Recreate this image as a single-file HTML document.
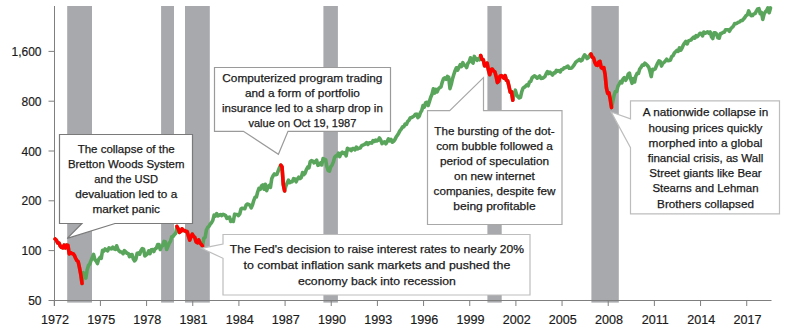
<!DOCTYPE html><html><head><meta charset="utf-8"><style>html,body{margin:0;padding:0;background:#fff;}svg{display:block;}text{font-family:"Liberation Sans",sans-serif;fill:#1a1a1a;}</style></head><body>
<svg width="788" height="334" viewBox="0 0 788 334">
<rect width="788" height="334" fill="#fff"/>
<rect x="67.2" y="6" width="24.8" height="296.6" fill="#a8a9ad"/>
<rect x="161.1" y="6" width="12.9" height="296.6" fill="#a8a9ad"/>
<rect x="185.0" y="6" width="24.8" height="296.6" fill="#a8a9ad"/>
<rect x="323.4" y="6" width="14.5" height="296.6" fill="#a8a9ad"/>
<rect x="487.4" y="6" width="14.3" height="296.6" fill="#a8a9ad"/>
<rect x="591.4" y="6" width="27.4" height="296.6" fill="#a8a9ad"/>
<g stroke="#7f7f7f" stroke-width="1" fill="none">
<line x1="54.5" y1="6" x2="54.5" y2="306"/>
<line x1="48.5" y1="300.5" x2="771.5" y2="300.5"/>
<line x1="54.26" y1="300.5" x2="54.26" y2="306"/>
<line x1="100.42" y1="300.5" x2="100.42" y2="306"/>
<line x1="146.59" y1="300.5" x2="146.59" y2="306"/>
<line x1="192.75" y1="300.5" x2="192.75" y2="306"/>
<line x1="238.92" y1="300.5" x2="238.92" y2="306"/>
<line x1="285.08" y1="300.5" x2="285.08" y2="306"/>
<line x1="331.24" y1="300.5" x2="331.24" y2="306"/>
<line x1="377.41" y1="300.5" x2="377.41" y2="306"/>
<line x1="423.57" y1="300.5" x2="423.57" y2="306"/>
<line x1="469.74" y1="300.5" x2="469.74" y2="306"/>
<line x1="515.90" y1="300.5" x2="515.90" y2="306"/>
<line x1="562.06" y1="300.5" x2="562.06" y2="306"/>
<line x1="608.23" y1="300.5" x2="608.23" y2="306"/>
<line x1="654.39" y1="300.5" x2="654.39" y2="306"/>
<line x1="700.56" y1="300.5" x2="700.56" y2="306"/>
<line x1="746.72" y1="300.5" x2="746.72" y2="306"/>
<line x1="48.5" y1="51.40" x2="54.5" y2="51.40"/>
<line x1="48.5" y1="101.20" x2="54.5" y2="101.20"/>
<line x1="48.5" y1="151.00" x2="54.5" y2="151.00"/>
<line x1="48.5" y1="200.80" x2="54.5" y2="200.80"/>
<line x1="48.5" y1="250.60" x2="54.5" y2="250.60"/>
</g>
<g font-size="12" stroke="#1a1a1a" stroke-width="0.18">
<text x="41.5" y="55.90" text-anchor="end">1,600</text>
<text x="41.5" y="105.70" text-anchor="end">800</text>
<text x="41.5" y="155.50" text-anchor="end">400</text>
<text x="41.5" y="205.30" text-anchor="end">200</text>
<text x="41.5" y="255.10" text-anchor="end">100</text>
<text x="41.5" y="304.90" text-anchor="end">50</text>
<text x="55.06" y="323.8" text-anchor="middle" font-size="12.6">1972</text>
<text x="101.22" y="323.8" text-anchor="middle" font-size="12.6">1975</text>
<text x="147.39" y="323.8" text-anchor="middle" font-size="12.6">1978</text>
<text x="193.55" y="323.8" text-anchor="middle" font-size="12.6">1981</text>
<text x="239.72" y="323.8" text-anchor="middle" font-size="12.6">1984</text>
<text x="285.88" y="323.8" text-anchor="middle" font-size="12.6">1987</text>
<text x="332.04" y="323.8" text-anchor="middle" font-size="12.6">1990</text>
<text x="378.21" y="323.8" text-anchor="middle" font-size="12.6">1993</text>
<text x="424.37" y="323.8" text-anchor="middle" font-size="12.6">1996</text>
<text x="470.54" y="323.8" text-anchor="middle" font-size="12.6">1999</text>
<text x="516.70" y="323.8" text-anchor="middle" font-size="12.6">2002</text>
<text x="562.86" y="323.8" text-anchor="middle" font-size="12.6">2005</text>
<text x="609.03" y="323.8" text-anchor="middle" font-size="12.6">2008</text>
<text x="655.19" y="323.8" text-anchor="middle" font-size="12.6">2011</text>
<text x="701.36" y="323.8" text-anchor="middle" font-size="12.6">2014</text>
<text x="747.52" y="323.8" text-anchor="middle" font-size="12.6">2017</text>
</g>
<path d="M55.12,238.98 L56.40,240.22 L57.68,242.96 L58.96,243.07 L60.25,246.06 L61.53,247.43 L62.81,247.90 L64.09,245.22 L65.37,247.91 L66.66,245.09 L67.94,245.18 L69.22,253.86 L70.50,252.68 L71.78,253.41 L73.07,253.67 L74.35,255.36 L75.63,258.22 L76.91,260.67 L78.19,261.74 L79.48,267.55 L80.76,274.35 L82.04,283.48 L83.32,272.63 L84.60,276.56 L85.89,278.02 L87.17,269.70 L88.45,265.52 L89.73,263.98 L91.01,260.66 L92.30,257.56 L93.58,254.44 L94.86,259.47 L96.14,261.00 L97.42,263.54 L98.71,259.24 L99.99,257.49 L101.27,258.32 L102.55,250.28 L103.83,251.11 L105.12,248.94 L106.40,249.73 L107.68,250.77 L108.96,247.89 L110.24,248.47 L111.53,248.84 L112.81,247.23 L114.09,248.85 L115.37,249.41 L116.65,245.73 L117.94,249.46 L119.22,251.03 L120.50,252.04 L121.78,252.03 L123.06,253.74 L124.35,250.56 L125.63,251.73 L126.91,253.26 L128.19,253.44 L129.47,256.63 L130.76,254.71 L132.04,254.51 L133.32,259.07 L134.60,260.87 L135.88,259.10 L137.17,253.21 L138.45,252.91 L139.73,254.19 L141.01,250.41 L142.29,248.57 L143.58,249.10 L144.86,256.00 L146.14,254.81 L147.42,253.75 L148.70,250.95 L149.99,253.62 L151.27,249.77 L152.55,249.65 L153.83,251.56 L155.11,248.84 L156.40,248.21 L157.68,244.50 L158.96,244.50 L160.24,249.60 L161.52,246.61 L162.81,245.41 L164.09,241.39 L165.37,241.70 L166.65,249.41 L167.93,246.52 L169.22,243.25 L170.50,241.34 L171.78,236.81 L173.06,236.39 L174.34,234.60 L175.63,233.46 L176.91,226.46 L178.19,228.94 L179.47,232.30 L180.75,231.35 L182.04,228.81 L183.32,230.51 L184.60,230.63 L185.88,231.38 L187.16,231.54 L188.45,236.15 L189.73,240.13 L191.01,236.68 L192.29,234.10 L193.57,236.29 L194.86,237.56 L196.14,242.05 L197.42,242.78 L198.70,239.96 L199.98,242.83 L201.27,244.31 L202.55,245.98 L203.83,238.09 L205.11,237.55 L206.39,230.03 L207.68,227.48 L208.96,226.40 L210.24,224.06 L211.52,222.70 L212.80,220.36 L214.09,215.17 L215.37,216.07 L216.65,213.58 L217.93,215.99 L219.21,215.18 L220.50,214.46 L221.78,215.56 L223.06,214.31 L224.34,214.95 L225.62,215.62 L226.91,218.46 L228.19,217.50 L229.47,217.11 L230.75,221.51 L232.03,220.26 L233.32,221.45 L234.60,214.19 L235.88,214.44 L237.16,214.45 L238.44,215.54 L239.73,213.95 L241.01,208.82 L242.29,208.20 L243.57,208.41 L244.85,208.74 L246.14,204.96 L247.42,204.09 L248.70,204.44 L249.98,205.31 L251.26,207.84 L252.55,204.85 L253.83,200.32 L255.11,197.16 L256.39,196.99 L257.67,192.03 L258.96,188.33 L260.24,189.35 L261.52,185.83 L262.80,184.83 L264.08,189.17 L265.37,184.23 L266.65,190.65 L267.93,186.82 L269.21,185.29 L270.49,187.35 L271.78,178.46 L273.06,175.86 L274.34,173.98 L275.62,174.81 L276.90,174.38 L278.19,171.02 L279.47,167.63 L280.75,165.16 L282.03,166.92 L283.31,184.56 L284.60,190.96 L285.88,185.91 L287.16,183.06 L288.44,180.12 L289.72,182.56 L291.01,181.88 L292.29,181.66 L293.57,178.61 L294.85,179.00 L296.13,181.83 L297.42,179.03 L298.70,177.19 L299.98,178.56 L301.26,177.51 L302.54,172.58 L303.83,174.69 L305.11,173.21 L306.39,169.70 L307.67,167.22 L308.95,167.79 L310.24,161.70 L311.52,160.60 L312.80,161.07 L314.08,162.90 L315.36,161.72 L316.65,160.20 L317.93,165.32 L319.21,164.71 L320.49,162.99 L321.77,164.95 L323.06,158.62 L324.34,159.27 L325.62,159.64 L326.90,166.76 L328.18,170.53 L329.47,171.02 L330.75,166.84 L332.03,165.07 L333.31,162.15 L334.59,157.47 L335.88,155.89 L337.16,155.87 L338.44,153.15 L339.72,156.68 L341.00,153.52 L342.29,152.13 L343.57,153.51 L344.85,152.67 L346.13,155.89 L347.41,148.29 L348.70,149.74 L349.98,149.05 L351.26,150.64 L352.54,148.66 L353.82,148.59 L355.11,149.85 L356.39,147.08 L357.67,148.82 L358.95,148.17 L360.23,148.02 L361.52,145.88 L362.80,145.16 L364.08,144.65 L365.36,143.90 L366.64,142.57 L367.93,144.42 L369.21,142.81 L370.49,142.75 L371.77,143.14 L373.05,140.70 L374.34,141.43 L375.62,140.05 L376.90,140.98 L378.18,140.26 L379.46,137.96 L380.75,140.15 L382.03,143.52 L383.31,142.69 L384.59,141.81 L385.87,143.76 L387.16,141.53 L388.44,138.88 L389.72,140.84 L391.00,139.36 L392.28,142.25 L393.57,141.37 L394.85,139.65 L396.13,137.10 L397.41,135.17 L398.69,133.18 L399.98,130.62 L401.26,129.11 L402.54,126.86 L403.82,126.88 L405.10,124.06 L406.39,124.42 L407.67,121.53 L408.95,120.29 L410.23,117.98 L411.51,117.48 L412.80,116.92 L414.08,115.96 L415.36,114.34 L416.64,114.17 L417.92,117.54 L419.21,116.20 L420.49,112.41 L421.77,110.55 L423.05,105.47 L424.33,107.03 L425.62,102.75 L426.90,102.33 L428.18,105.46 L429.46,101.38 L430.74,97.29 L432.03,94.23 L433.31,88.83 L434.59,93.08 L435.87,89.36 L437.15,91.88 L438.44,88.75 L439.72,87.62 L441.00,86.90 L442.28,82.01 L443.56,78.51 L444.85,77.86 L446.13,79.22 L447.41,76.44 L448.69,77.28 L449.97,88.60 L451.26,84.26 L452.54,78.71 L453.82,74.58 L455.10,70.64 L456.38,67.75 L457.67,70.11 L458.95,67.38 L460.23,64.70 L461.51,66.52 L462.79,62.71 L464.08,65.05 L465.36,65.50 L466.64,67.58 L467.92,63.22 L469.20,61.87 L470.49,57.83 L471.77,61.58 L473.05,63.04 L474.33,56.40 L475.61,58.65 L476.90,60.24 L478.18,58.54 L479.46,59.73 L480.74,55.49 L482.02,59.44 L483.31,59.80 L484.59,65.80 L485.87,65.51 L487.15,63.06 L488.43,70.02 L489.72,74.78 L491.00,69.47 L492.28,69.10 L493.56,70.92 L494.84,71.70 L496.13,76.46 L497.41,82.59 L498.69,81.30 L499.97,76.09 L501.25,75.55 L502.54,76.67 L503.82,78.18 L505.10,75.59 L506.38,80.14 L507.66,80.80 L508.95,86.20 L510.23,92.12 L511.51,91.77 L512.79,100.14 L514.07,94.18 L515.36,90.20 L516.64,94.67 L517.92,96.66 L519.20,97.90 L520.48,97.30 L521.77,91.70 L523.05,88.13 L524.33,87.32 L525.61,86.17 L526.89,84.89 L528.18,85.76 L529.46,81.91 L530.74,81.40 L532.02,77.85 L533.30,76.62 L534.59,75.74 L535.87,76.93 L537.15,78.15 L538.43,77.28 L539.71,76.00 L541.00,78.51 L542.28,78.34 L543.56,77.67 L544.84,76.67 L546.12,73.95 L547.41,71.66 L548.69,73.50 L549.97,72.15 L551.25,73.54 L552.53,75.00 L553.82,72.88 L555.10,72.89 L556.38,70.35 L557.66,71.16 L558.94,70.66 L560.23,71.95 L561.51,69.47 L562.79,69.53 L564.07,67.73 L565.35,67.69 L566.64,66.90 L567.92,66.03 L569.20,68.29 L570.48,68.28 L571.76,67.92 L573.05,66.41 L574.33,64.66 L575.61,62.43 L576.89,61.26 L578.17,60.36 L579.46,59.36 L580.74,60.94 L582.02,60.23 L583.30,57.19 L584.58,54.88 L585.87,56.18 L587.15,58.51 L588.43,57.59 L589.71,55.07 L590.99,54.01 L592.28,57.25 L593.56,57.87 L594.84,62.40 L596.12,64.94 L597.40,65.37 L598.69,62.04 L599.97,61.27 L601.25,67.73 L602.53,68.44 L603.81,67.57 L605.10,74.41 L606.38,87.75 L607.66,93.34 L608.94,92.78 L610.22,99.21 L611.51,107.58 L612.79,101.69 L614.07,95.24 L615.35,91.53 L616.63,91.51 L617.92,86.37 L619.20,84.00 L620.48,81.48 L621.76,82.91 L623.04,78.91 L624.33,77.64 L625.61,80.35 L626.89,78.33 L628.17,74.22 L629.45,73.17 L630.74,79.32 L632.02,83.29 L633.30,78.52 L634.58,82.01 L635.86,75.98 L637.15,73.38 L638.43,73.54 L639.71,69.00 L640.99,67.39 L642.27,65.13 L643.56,65.20 L644.84,63.19 L646.12,64.16 L647.40,65.49 L648.68,67.05 L649.97,71.25 L651.25,76.60 L652.53,69.25 L653.81,69.61 L655.09,69.00 L656.38,65.94 L657.66,63.08 L658.94,60.86 L660.22,61.40 L661.50,66.05 L662.79,63.26 L664.07,62.36 L665.35,60.96 L666.63,59.24 L667.91,60.67 L669.20,60.47 L670.48,59.96 L671.76,56.43 L673.04,55.64 L674.32,53.10 L675.61,51.81 L676.89,50.33 L678.17,51.42 L679.45,47.95 L680.73,50.23 L682.02,48.13 L683.30,44.99 L684.58,43.01 L685.86,41.33 L687.14,43.94 L688.43,40.90 L689.71,40.41 L690.99,39.96 L692.27,38.47 L693.55,37.11 L694.84,38.20 L696.12,35.55 L697.40,36.67 L698.68,35.02 L699.96,33.28 L701.25,33.58 L702.53,35.85 L703.81,32.01 L705.09,33.27 L706.37,32.66 L707.66,31.91 L708.94,33.44 L710.22,32.03 L711.50,36.67 L712.78,38.60 L714.07,32.87 L715.35,32.84 L716.63,34.11 L717.91,37.85 L719.19,38.14 L720.48,33.55 L721.76,33.36 L723.04,32.27 L724.32,32.20 L725.60,29.69 L726.89,29.78 L728.17,29.86 L729.45,31.27 L730.73,28.86 L732.01,27.56 L733.30,26.29 L734.58,23.67 L735.86,23.69 L737.14,23.04 L738.42,22.22 L739.71,21.87 L740.99,20.49 L742.27,20.46 L743.55,19.08 L744.83,17.51 L746.12,15.52 L747.40,14.81 L748.68,10.89 L749.96,13.74 L751.24,15.70 L752.53,15.50 L753.81,13.97 L755.09,13.62 L756.37,11.08 L757.65,8.93 L758.94,8.63 L760.22,13.79 L761.50,12.52 L762.78,19.44 L764.06,14.00 L765.35,11.89 L766.63,10.62 L767.91,7.85 L769.19,12.73 L770.47,7.95" fill="none" stroke="#5aa55c" stroke-width="3.6" stroke-linejoin="round" stroke-linecap="round"/>
<path d="M55.12,238.98 L56.40,240.22 L57.68,242.96 L58.96,243.07 L60.25,246.06 L61.53,247.43 L62.81,247.90 L64.09,245.22 L65.37,247.91 L66.66,245.09 L67.94,245.18 L69.22,253.86 L70.50,252.68 L71.78,253.41 L73.07,253.67 L74.35,255.36 L75.63,258.22 L76.91,260.67 L78.19,261.74 L79.48,267.55 L80.76,274.35 L82.04,283.48" fill="none" stroke="#ff0000" stroke-width="3.6" stroke-linejoin="round" stroke-linecap="round"/>
<path d="M176.91,226.46 L178.19,228.94 L179.47,232.30 L180.75,231.35 L182.04,228.81 L183.32,230.51 L184.60,230.63 L185.88,231.38 L187.16,231.54 L188.45,236.15 L189.73,240.13 L191.01,236.68 L192.29,234.10 L193.57,236.29 L194.86,237.56 L196.14,242.05 L197.42,242.78 L198.70,239.96 L199.98,242.83 L201.27,244.31 L202.55,245.98" fill="none" stroke="#ff0000" stroke-width="3.6" stroke-linejoin="round" stroke-linecap="round"/>
<path d="M280.75,165.16 L282.03,166.92 L283.31,184.56 L284.60,190.96" fill="none" stroke="#ff0000" stroke-width="3.6" stroke-linejoin="round" stroke-linecap="round"/>
<path d="M480.74,55.49 L482.02,59.44 L483.31,59.80 L484.59,65.80 L485.87,65.51 L487.15,63.06 L488.43,70.02 L489.72,74.78 L491.00,69.47 L492.28,69.10 L493.56,70.92 L494.84,71.70 L496.13,76.46 L497.41,82.59 L498.69,81.30 L499.97,76.09 L501.25,75.55 L502.54,76.67 L503.82,78.18 L505.10,75.59 L506.38,80.14 L507.66,80.80 L508.95,86.20 L510.23,92.12 L511.51,91.77 L512.79,100.14" fill="none" stroke="#ff0000" stroke-width="3.6" stroke-linejoin="round" stroke-linecap="round"/>
<path d="M590.99,54.01 L592.28,57.25 L593.56,57.87 L594.84,62.40 L596.12,64.94 L597.40,65.37 L598.69,62.04 L599.97,61.27 L601.25,67.73 L602.53,68.44 L603.81,67.57 L605.10,74.41 L606.38,87.75 L607.66,93.34 L608.94,92.78 L610.22,99.21 L611.51,107.58" fill="none" stroke="#ff0000" stroke-width="3.6" stroke-linejoin="round" stroke-linecap="round"/>
<polygon points="59.5,134.5 192.5,134.5 192.5,223.5 115.0,223.5 67.2,238.4 81.9,223.5 59.5,223.5" fill="#fff" stroke="#7a7a7a" stroke-width="1.2"/>
<polygon points="214.5,67.5 390.5,67.5 390.5,131.3 288.0,131.3 278.4,154.3 243.4,131.3 214.5,131.3" fill="#fff" stroke="#9a9a9a" stroke-width="1.2"/>
<polygon points="427.5,110.6 449.7,110.6 483.5,77.6 483.5,110.6 562.0,110.6 562.0,224.5 427.5,224.5" fill="#fff" stroke="#a8a8a8" stroke-width="1.2"/>
<polygon points="630.5,100.8 779.5,100.8 779.5,213.8 630.5,213.8 630.5,147.6 611.2,112.0 630.5,118.8" fill="#fff" stroke="#bdbdbd" stroke-width="1.2"/>
<polygon points="223.0,234.5 530.0,234.5 530.0,295.0 223.0,295.0 223.0,258.3 201.5,248.3 223.0,244.0" fill="#fff" stroke="#bdbdbd" stroke-width="1.2"/>
<g font-size="11.7" text-anchor="middle" stroke="#1a1a1a" stroke-width="0.25">
<text x="126.20" y="153.00" textLength="97.1" lengthAdjust="spacingAndGlyphs">The collapse of the</text>
<text x="126.20" y="168.00" textLength="116.5" lengthAdjust="spacingAndGlyphs">Bretton Woods System</text>
<text x="126.20" y="183.00" textLength="63.8" lengthAdjust="spacingAndGlyphs">and the USD</text>
<text x="126.20" y="198.00" textLength="102.1" lengthAdjust="spacingAndGlyphs">devaluation led to a</text>
<text x="126.20" y="213.00" textLength="67.6" lengthAdjust="spacingAndGlyphs">market panic</text>
<text x="302.40" y="81.80" textLength="160.1" lengthAdjust="spacingAndGlyphs">Computerized program trading</text>
<text x="302.40" y="96.80" textLength="114.9" lengthAdjust="spacingAndGlyphs">and a form of portfolio</text>
<text x="302.40" y="111.80" textLength="160.8" lengthAdjust="spacingAndGlyphs">insurance led to a sharp drop in</text>
<text x="302.40" y="126.80" textLength="107.9" lengthAdjust="spacingAndGlyphs">value on Oct 19, 1987</text>
<text x="494.50" y="134.60" textLength="120.3" lengthAdjust="spacingAndGlyphs">The bursting of the dot-</text>
<text x="494.50" y="149.70" textLength="116.7" lengthAdjust="spacingAndGlyphs">com bubble followed a</text>
<text x="494.50" y="164.80" textLength="109.2" lengthAdjust="spacingAndGlyphs">period of speculation</text>
<text x="494.50" y="179.90" textLength="80.8" lengthAdjust="spacingAndGlyphs">on new internet</text>
<text x="494.50" y="195.00" textLength="121.8" lengthAdjust="spacingAndGlyphs">companies, despite few</text>
<text x="494.50" y="210.10" textLength="82.3" lengthAdjust="spacingAndGlyphs">being profitable</text>
<text x="705.50" y="116.30" textLength="125.5" lengthAdjust="spacingAndGlyphs">A nationwide collapse in</text>
<text x="705.50" y="131.50" textLength="113.8" lengthAdjust="spacingAndGlyphs">housing prices quickly</text>
<text x="705.50" y="146.70" textLength="113.8" lengthAdjust="spacingAndGlyphs">morphed into a global</text>
<text x="705.50" y="161.90" textLength="115.6" lengthAdjust="spacingAndGlyphs">financial crisis, as Wall</text>
<text x="705.50" y="177.10" textLength="112.4" lengthAdjust="spacingAndGlyphs">Street giants like Bear</text>
<text x="705.50" y="192.30" textLength="106.1" lengthAdjust="spacingAndGlyphs">Stearns and Lehman</text>
<text x="705.50" y="207.50" textLength="96.8" lengthAdjust="spacingAndGlyphs">Brothers collapsed</text>
<text x="376.90" y="253.00" textLength="294.2" lengthAdjust="spacingAndGlyphs">The Fed&#39;s decision to raise interest rates to nearly 20%</text>
<text x="376.90" y="269.00" textLength="266.9" lengthAdjust="spacingAndGlyphs">to combat inflation sank markets and pushed the</text>
<text x="376.90" y="285.00" textLength="157.9" lengthAdjust="spacingAndGlyphs">economy back into recession</text>
</g>
</svg></body></html>
